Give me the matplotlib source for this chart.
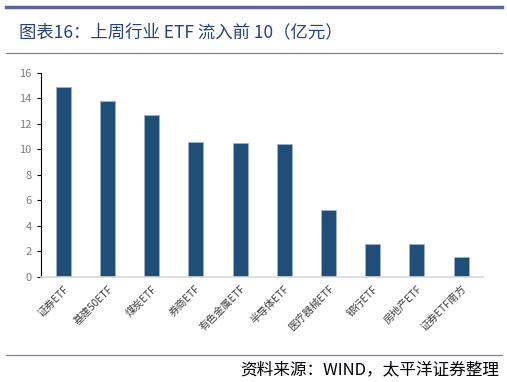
import matplotlib.pyplot as plt
from matplotlib.lines import Line2D

plt.rcParams['font.family'] = ['Noto Sans CJK SC', 'DejaVu Sans']

categories = ['证券ETF', '基建50ETF', '煤炭ETF', '券商ETF', '有色金属ETF',
              '半导体ETF', '医疗器械ETF', '银行ETF', '房地产ETF', '证券ETF南方']
inflow = [14.9, 13.8, 12.65, 10.6, 10.5, 10.4, 5.2, 2.55, 2.55, 1.55]
yticks = [0, 2, 4, 6, 8, 10, 12, 14, 16]

fig = plt.figure(figsize=(5.07, 3.82), dpi=100)
ax = fig.add_axes([0.0815, 0.2757, 0.8715, 0.534])

x = range(len(categories))
ax.bar(x, inflow, width=0.34, color='#1F4E79', edgecolor='#9DB3CC', linewidth=0.6)

ax.set_xlim(-0.5, len(categories) - 0.5)
ax.set_ylim(0, 16)
ax.set_yticks(yticks)
ax.set_xticks(list(x))
ax.set_xticklabels(categories, rotation=45, ha='right', rotation_mode='anchor',
                   fontsize=7.5, color='#404040')
ax.tick_params(axis='y', labelsize=8, labelcolor='#7F7F7F', direction='out', length=3,
               width=0.8, pad=4, color='black')
ax.tick_params(axis='x', length=0, pad=5)

for s in ['top', 'right']:
    ax.spines[s].set_visible(False)
ax.spines['left'].set_color('black')
ax.spines['left'].set_linewidth(0.8)
ax.spines['bottom'].set_color('#D9D9D9')
ax.spines['bottom'].set_linewidth(1.2)

# header / footer rules
fig.add_artist(Line2D([0.012, 0.99], [0.982, 0.982], color='#5F6496', lw=2.5))
fig.add_artist(Line2D([0.012, 0.99], [0.862, 0.862], color='#7A7FAF', lw=0.9))
fig.add_artist(Line2D([0.012, 0.99], [0.071, 0.071], color='#7A7FAF', lw=0.9))

fig.text(0.038, 0.915, '图表16：上周行业 ETF 流入前 10（亿元）', fontsize=12.5,
         color='#24437A', va='center', ha='left')
fig.text(0.985, 0.032, '资料来源：WIND，太平洋证券整理', fontsize=12,
         color='black', va='center', ha='right', style='italic')

fig.savefig('out.png', dpi=100)
